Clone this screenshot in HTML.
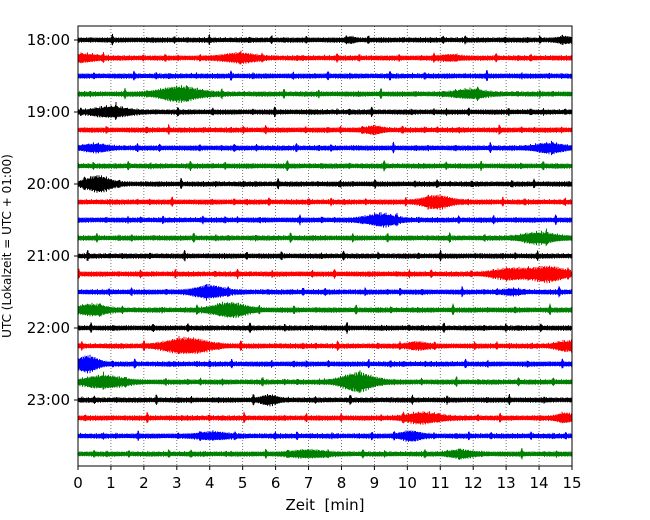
<!DOCTYPE html>
<html><head><meta charset="utf-8"><style>
body{margin:0;background:#fff}
svg{display:block;font-family:"DejaVu Sans","Liberation Sans",sans-serif}
text{white-space:pre}
</style></head><body>
<svg id="c" width="650" height="520"></svg>
<script>
const hourLabels=["18:00","19:00","20:00","21:00","22:00","23:00"];
const xTicks=[0,1,2,3,4,5,6,7,8,9,10,11,12,13,14,15];
const rowColors=["black","red","blue","green"];
// bursts per row: [minute, half-amplitude px, duration min]
const bursts=[
[[14.8,2,0.4],[8.3,2,0.2]],
[[0.2,3,0.7],[4.9,4,0.8],[11.3,2,0.5]],
[],
[[3.1,7,1.0],[11.9,4,0.7]],
[[1,5,0.8]],
[[9.0,3,0.4]],
[[0.5,3,0.6],[14.3,4,0.7]],
[],
[[0.6,8,0.6]],
[[10.9,6,0.7]],
[[9.2,6,0.7]],
[[14,5,0.8]],
[],
[[13.2,5,0.9],[14.3,7,0.8]],
[[4,6,0.7],[13.2,2,0.4]],
[[0.4,5,0.7],[4.6,7,0.8]],
[],
[[3.3,8,1.0],[10.3,3,0.5],[14.8,4,0.5]],
[[0.3,8,0.5]],
[[0.8,6,0.9],[8.5,9,0.8]],
[[5.8,4,0.4]],
[[10.5,5,0.8],[14.8,4,0.4]],
[[4.1,3,0.7],[10.1,4,0.5]],
[[7,3,0.8],[11.6,3,0.6]]
];
const X0=78,X1=572,Y0=26,Y1=466,R0=40,RS=18;
const xs=m=>X0+(X1-X0)*m/15;
const ys=r=>R0+RS*r;
const svg=document.getElementById('c');
const NS="http://www.w3.org/2000/svg";
function mk(t,a){const e=document.createElementNS(NS,t);for(const k in a)e.setAttribute(k,a[k]);svg.appendChild(e);return e;}
for(const m of xTicks){if(m>0&&m<15){const g=mk('line',{x1:xs(m),x2:xs(m),y1:Y0,y2:Y1,stroke:'#555','stroke-width':0.8,'stroke-dasharray':'1,2'});

}}
bursts.forEach((bl,r)=>{
 let d='';const y=ys(r);
 for(let px=X0;px<=X1;px+=0.5){
  const m=(px-X0)/(X1-X0)*15;
  let env=3.2;
  for(const b of bl){const z=(m-b[0])/b[2];env+=b[1]*Math.exp(-z*z*2);}
  const t=px*1.7+r*13;
  const spike=Math.max(0,Math.sin(t*0.173+r*0.7)*Math.sin(t*0.419+r)*Math.sin(t*0.057))**4*4;
  const j=0.72+0.2*Math.sin(t*2.3)*Math.sin(t*0.71);
  const a=env*j*(0.85+0.15*Math.sin(t*5.1))+spike,b=env*j*(0.85+0.15*Math.cos(t*4.3))+spike*0.8;
  d+=`M${px.toFixed(1)} ${(y-a).toFixed(1)}V${(y+b).toFixed(1)}`;
 }
 const p=mk('path',{d:d,stroke:rowColors[r%4],'stroke-width':1,fill:'none'});
 
 
});
const fr=mk('rect',{x:X0,y:Y0,width:X1-X0,height:Y1-Y0,fill:'none',stroke:'#000','stroke-width':1});


hourLabels.forEach((l,i)=>{const y=ys(i*4);
 mk('line',{x1:X0-4,x2:X0,y1:y,y2:y,stroke:'#000'});
 const t=mk('text',{x:X0-8,y:y+5,'text-anchor':'end','font-size':15});t.textContent=l;
 
 });
xTicks.forEach(m=>{const x=xs(m);
 mk('line',{x1:x,x2:x,y1:Y1,y2:Y1+4,stroke:'#000'});
 const t=mk('text',{x:x,y:Y1+22,'text-anchor':'middle','font-size':15});t.textContent=m;
 
 });
const xl=mk('text',{x:325,y:510,'text-anchor':'middle','font-size':15});xl.textContent='Zeit  [min]';


const yl=mk('text',{x:0,y:0,'text-anchor':'middle','font-size':12,transform:'translate(11,246) rotate(-90)'});yl.textContent='UTC (Lokalzeit = UTC + 01:00)';


</script>
</body></html>
